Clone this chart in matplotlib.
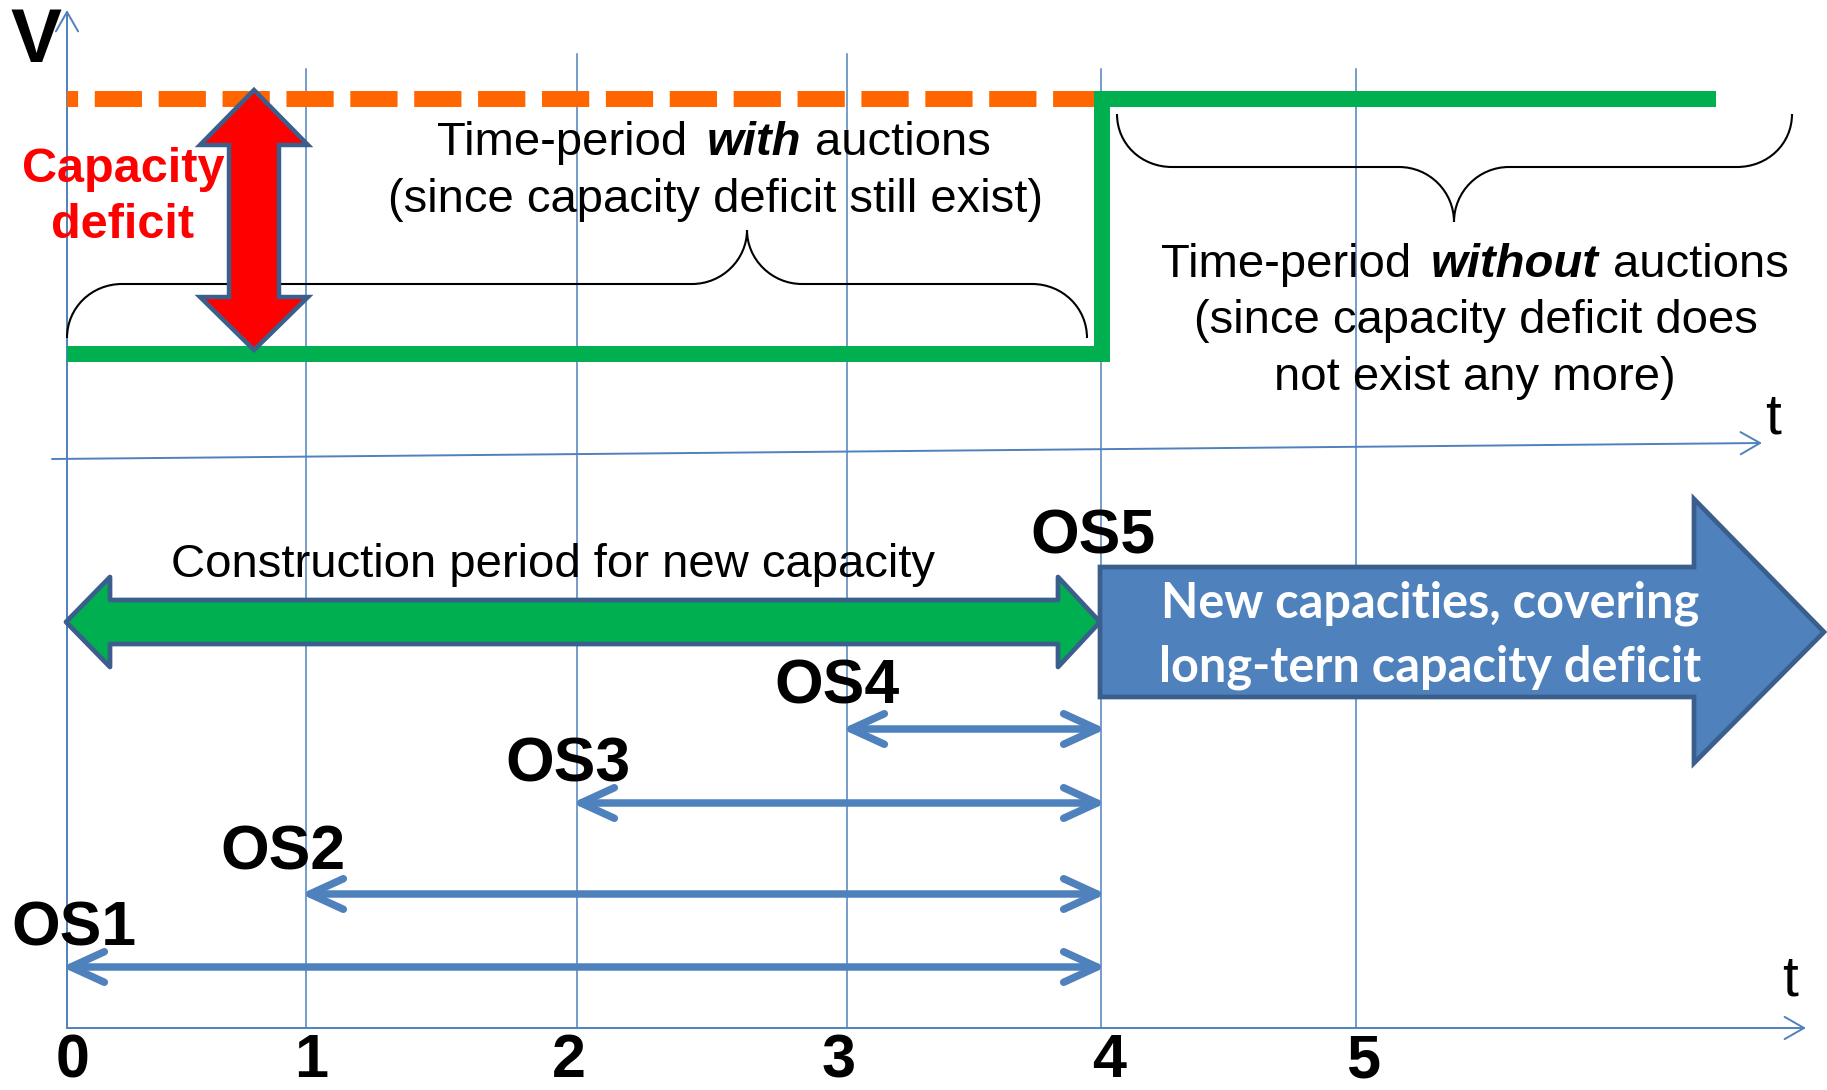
import numpy as np
import matplotlib
matplotlib.use("Agg")
import matplotlib.pyplot as plt
from matplotlib.patches import Polygon, FancyArrowPatch, PathPatch
from matplotlib.path import Path

plt.rcParams['font.family'] = ['Liberation Sans', 'DejaVu Sans']
plt.rcParams['lines.scale_dashes'] = False

BLUE = '#4F81BD'
EDGE = '#3A5F8C'
GREEN = '#00B050'
ORANGE = '#FF6600'
RED = '#FF0000'

# time axis (page is drawn in pixel units, y down)
ticks = ["0", "1", "2", "3", "4", "5"]
tick_x = [67, 306, 577, 847, 1101, 1356]
tick_label_x = [73, 311, 569, 839, 1109, 1363]
grid_top = [10, 69, 54, 54, 69, 69]
axis_y = 1028

# capacity levels
v_need = 99      # required capacity (orange dashed)
v_have = 354     # available capacity before new plants (green)
t_switch = 1102  # when new capacity comes in
t_last = 1716

# options: start tick -> all end at tick 4
os_names = ["OS1", "OS2", "OS3", "OS4"]
os_start = [0, 1, 2, 3]
os_end = 4
os_y = [967, 894, 803, 729]
os_label_x = [11, 220, 505, 774]
os_label_y = [946, 869, 781, 704]

fig = plt.figure(figsize=(18.27, 10.90), dpi=100)
ax = fig.add_axes([0, 0, 1, 1])
ax.set_xlim(0, 1827)
ax.set_ylim(1090, 0)
ax.axis('off')

# ---- grid lines + axes ----
for x, top in zip(tick_x[1:], grid_top[1:]):
    ax.plot([x, x], [top, axis_y], color=BLUE, lw=1.1, zorder=1)


def thin_arrow(p0, p1, lw=1.4):
    a = FancyArrowPatch(p0, p1, arrowstyle='->,head_length=14,head_width=8',
                        mutation_scale=1, lw=lw, color=BLUE, shrinkA=0, shrinkB=0, zorder=2)
    ax.add_patch(a)


thin_arrow((tick_x[0], axis_y), (tick_x[0], 10))
thin_arrow((tick_x[0], axis_y), (1806, axis_y))
thin_arrow((52, 459), (1762, 443))

# ---- capacity lines ----
ax.plot([tick_x[0], tick_x[4]], [v_need, v_need], color=ORANGE, lw=11.5,
        linestyle=(26, (34, 12)), solid_capstyle='butt', dash_capstyle='butt', zorder=3)
ax.plot([tick_x[0], t_switch, t_switch, t_last], [v_have, v_have, v_need, v_need],
        color=GREEN, lw=11.5, solid_joinstyle='miter', solid_capstyle='butt', zorder=4)


# ---- curly braces ----
def brace(x0, x1, xt, y_end, y_mid, y_tip, r=55):
    k = 0.552
    s = np.sign(y_tip - y_mid)
    verts = [(x0, y_end),
             (x0, y_end + s * r * k), (x0 + r * (1 - k), y_mid), (x0 + r, y_mid),
             (xt - r, y_mid),
             (xt - r * (1 - k), y_mid), (xt, y_mid + s * r * (1 - k)), (xt, y_tip),
             (xt, y_mid + s * r * (1 - k)), (xt + r * (1 - k), y_mid), (xt + r, y_mid),
             (x1 - r, y_mid),
             (x1 - r * (1 - k), y_mid), (x1, y_end + s * r * k), (x1, y_end)]
    codes = [Path.MOVETO] + [Path.CURVE4] * 3 + [Path.LINETO] + [Path.CURVE4] * 6 + \
            [Path.LINETO] + [Path.CURVE4] * 3
    ax.add_patch(PathPatch(Path(verts, codes), fill=False, lw=1.5, color='black', zorder=3))


brace(67, 1087, 747, 338, 284, 230)
brace(1117, 1792, 1454, 114, 167, 222)

# ---- red capacity-deficit arrow ----
cx = 254
red = [(cx, 90), (cx + 54, 145), (cx + 25, 145), (cx + 25, 297), (cx + 54, 297),
       (cx, 350), (cx - 54, 297), (cx - 25, 297), (cx - 25, 145), (cx - 54, 145)]
ax.add_patch(Polygon(red, closed=True, facecolor=RED, edgecolor=EDGE, lw=3.2,
                     joinstyle='miter', zorder=6))

# ---- green construction arrow ----
gy = 622
x0, x1 = tick_x[0] - 1, tick_x[4] - 1
grn = [(x0, gy), (x0 + 44, gy - 45), (x0 + 44, gy - 22), (x1 - 42, gy - 22), (x1 - 42, gy - 45),
       (x1, gy), (x1 - 42, gy + 45), (x1 - 42, gy + 22), (x0 + 44, gy + 22), (x0 + 44, gy + 45)]
ax.add_patch(Polygon(grn, closed=True, facecolor=GREEN, edgecolor=EDGE, lw=3.4,
                     joinstyle='round', zorder=6))

# ---- big blue arrow ----
bb = [(1100, 567), (1694, 567), (1694, 499), (1824, 632), (1694, 763), (1694, 697), (1100, 697)]
ax.add_patch(Polygon(bb, closed=True, facecolor=BLUE, edgecolor=EDGE, lw=3.4,
                     joinstyle='miter', zorder=6))
ax.text(1430, 617, "New capacities, covering", color='white', fontsize=35,
        fontweight='bold', family=['Lato', 'DejaVu Sans'], ha='center', va='baseline', zorder=7)
ax.text(1430, 682, "long-tern capacity deficit", color='white', fontsize=35,
        fontweight='bold', family=['Lato', 'DejaVu Sans'], ha='center', va='baseline', zorder=7)

# ---- option arrows ----
for s, y in zip(os_start, os_y):
    a = FancyArrowPatch((tick_x[s] - 5, y), (tick_x[os_end] + 5, y),
                        arrowstyle='<->,head_length=24,head_width=11', mutation_scale=1,
                        lw=5.4, color=BLUE, shrinkA=0, shrinkB=0, zorder=5,
                        capstyle='round', joinstyle='round')
    ax.add_patch(a)

for name, x, y in zip(os_names, os_label_x, os_label_y):
    ax.text(x, y, name, fontsize=45, fontweight='bold', ha='left', va='baseline', zorder=8)
ax.text(1030, 553, "OS5", fontsize=45, fontweight='bold', ha='left', va='baseline', zorder=8)

# ---- tick labels ----
for x, lab in zip(tick_label_x, ticks):
    ax.text(x, 1077, lab, fontsize=44, fontweight='bold', ha='center', va='baseline')

ax.text(10, 62, "V", fontsize=55, fontweight='bold', ha='left', va='baseline', zorder=8)
ax.text(1765, 433, "t", fontsize=41, ha='left', va='baseline')
ax.text(1782, 996, "t", fontsize=41, ha='left', va='baseline')

ax.text(123, 182, "Capacity", color=RED, fontsize=35, fontweight='bold',
        ha='center', va='baseline', zorder=8)
ax.text(123, 238, "deficit", color=RED, fontsize=35, fontweight='bold',
        ha='center', va='baseline', zorder=8)

ax.text(553, 577, "Construction period for new capacity", fontsize=34,
        ha='center', va='baseline', zorder=8)

# ---- mixed-style captions ----
fig.canvas.draw()
rend = fig.canvas.get_renderer()


def mixed_line(parts, xc, y, size=34):
    objs = []
    for s, bold in parts:
        t = ax.text(0, y, s, fontsize=size, ha='left', va='baseline', zorder=8,
                    fontweight='bold' if bold else 'normal',
                    fontstyle='italic' if bold else 'normal')
        objs.append(t)
    widths = [o.get_window_extent(rend).width for o in objs]
    gaps = [0.42 * size * 100 / 72 if parts[i + 1][1] else 0.3 * size * 100 / 72
            for i in range(len(parts) - 1)]
    x = xc - (sum(widths) + sum(gaps)) / 2
    for i, (o, w) in enumerate(zip(objs, widths)):
        o.set_x(x)
        x += w + (gaps[i] if i < len(gaps) else 0)


mixed_line([("Time-period", False), ("with", True), ("auctions", False)], 714, 155)
mixed_line([("(since capacity deficit still exist)", False)], 715, 212)
mixed_line([("Time-period", False), ("without", True), ("auctions", False)], 1475, 277)
mixed_line([("(since capacity deficit does", False)], 1476, 333)
mixed_line([("not exist any more)", False)], 1475, 390)

fig.savefig("out.png", dpi=100)
